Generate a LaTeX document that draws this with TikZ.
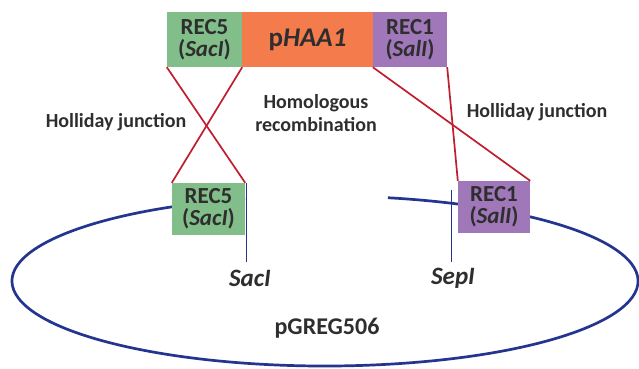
\documentclass[tikz,border=0pt]{standalone}
\usepackage{fontspec}
\setmainfont{Carlito}
\definecolor{boxgreen}{HTML}{82BE8A}
\definecolor{boxorange}{HTML}{F47C4C}
\definecolor{boxpurple}{HTML}{A077B8}
\definecolor{linkred}{HTML}{BE1E2D}
\definecolor{plasblue}{HTML}{23358F}
\definecolor{txt}{HTML}{2E2E2E}
\begin{document}
\begin{tikzpicture}[x=1pt,y=1pt,
  box/.style={draw=none,inner sep=0pt,align=center,text=txt,
    font=\bfseries\fontsize{23}{22}\selectfont},
  lbl/.style={inner sep=0pt,align=center,text=txt,font=\bfseries\fontsize{20}{23}\selectfont},
  site/.style={inner sep=0pt,text=txt,font=\bfseries\itshape\fontsize{25}{28}\selectfont},
  xover/.style={draw=linkred,line width=1.7pt},
  cut/.style={draw=plasblue,line width=0.9pt}]
\useasboundingbox (0,0) rectangle (639,368);
% plasmid
\draw[plasblue,line width=2.7pt] (325,87) ++(104.8:313 and 85) arc[start angle=104.8,end angle=438.4,x radius=313,y radius=85];
% top construct
\node[box,fill=boxgreen,minimum width=75pt,minimum height=55pt] (rec5t) at (204.5,328.5) {REC5\\(\textit{SacI})};
\node[box,fill=boxorange,minimum width=131pt,minimum height=55pt,font=\bfseries\fontsize{27}{30}\selectfont] (haa) at (307.5,328.5) {p\textit{HAA1}};
\node[box,fill=boxpurple,minimum width=74pt,minimum height=55pt] (rec1t) at (410,328.5) {REC1\\(\textit{SalI})};
% bottom boxes
\node[box,fill=boxgreen,minimum width=73pt,minimum height=52pt] (rec5b) at (208.5,159) {REC5\\(\textit{SacI})};
\node[box,fill=boxpurple,minimum width=72pt,minimum height=52pt] (rec1b) at (494,161) {REC1\\(\textit{SalI})};
% crossovers
\draw[xover] (rec5t.south west) -- (rec5b.north east);
\draw[xover] (rec5t.south east) -- (rec5b.north west);
\draw[xover] (rec1t.south west) -- (rec1b.north east);
\draw[xover] (rec1t.south east) -- (rec1b.north west);
% cut sites
\coordinate (c1) at (246,106);
\coordinate (c1t) at (246,185);
\coordinate (c2) at (451,106);
\coordinate (c2t) at (451,178);
\draw[cut] (c1t) -- (c1);
\draw[cut] (c2t) -- (c2);
\node[site] (saci) at (250,90) {SacI};
\node[site] (sepi) at (453,90) {SepI};
\node[lbl,font=\bfseries\fontsize{24}{28}\selectfont] (pgreg) at (327,40) {pGREG506};
% labels
\node[lbl] (hj1) at (116,246) {Holliday junction};
\node[lbl] (hr) at (316,254.5) {Homologous\\recombination};
\node[lbl] (hj2) at (537,256) {Holliday junction};
\end{tikzpicture}
\end{document}
